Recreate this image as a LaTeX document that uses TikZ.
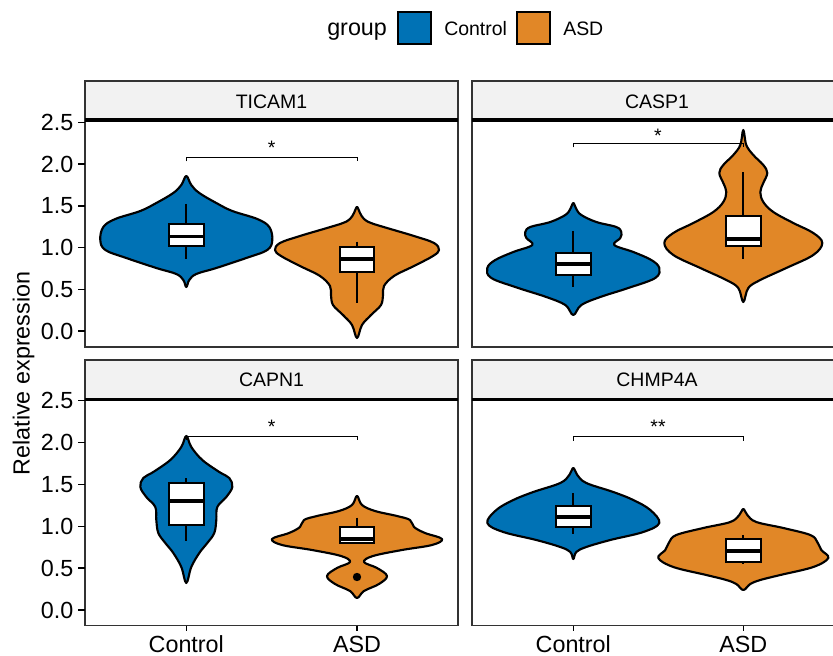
\documentclass[tikz,border=0pt]{standalone}
\usepackage{fontspec}
\setmainfont{Liberation Sans}
\definecolor{ctrl}{HTML}{0072B5}
\definecolor{asd}{HTML}{E18727}
\definecolor{stripgray}{HTML}{F2F2F2}
\definecolor{framegray}{HTML}{333333}
\usetikzlibrary{positioning}
\tikzstyle{panel}=[draw=framegray,line width=1.1pt]
\tikzstyle{strip}=[draw=framegray,fill=stripgray,line width=1.1pt]
\tikzstyle{stripline}=[draw=black,line width=2.3pt]
\tikzstyle{violin}=[draw=black,line width=1.6pt,line join=round]
\tikzstyle{bx}=[draw=black,fill=white,line width=1.5pt]
\tikzstyle{whisk}=[draw=black,line width=1.5pt]
\tikzstyle{med}=[draw=black,line width=2.7pt]
\tikzstyle{bracket}=[draw=black,line width=0.7pt]
\tikzstyle{tick}=[draw=black,line width=1.1pt]
\tikzstyle{big}=[font=\fontsize{17.5}{20}\selectfont,inner sep=0pt]
\tikzstyle{small}=[font=\fontsize{14.6}{17}\selectfont,inner sep=0pt]
\tikzstyle{key}=[draw=black,line width=1.2pt]
\newcommand{\violin}[3]{\draw[violin,fill=#2,shift={(#1,0)}] plot[smooth cycle,tension=0.6] coordinates {#3};}
\newcommand{\boxplt}[6]{%
  \draw[whisk] (#1,#5) -- (#1,#6);
  \draw[bx] (#1-17.3,#2) rectangle (#1+17.3,#3);
  \draw[med] (#1-17.3,#4) -- (#1+17.3,#4);}
\begin{document}
\begin{tikzpicture}[x=0.75pt,y=-0.75pt]
\useasboundingbox (0,0) rectangle (833,656);
\clip (0,0) rectangle (833,656);

% legend
\node[big,anchor=base west] (grp) at (327,36) {group};
\draw[key,fill=ctrl] (398,12) rectangle (431,44);
\node[small,anchor=base west] (kctrl) at (444,36) {Control};
\draw[key,fill=asd] (517,12) rectangle (550,44);
\node[small,anchor=base west] (kasd) at (563,36) {ASD};

% frames
\draw[panel] (85,120) rectangle (458,347);
\draw[panel] (472,120) rectangle (843,347);
\draw[panel] (85,399.5) rectangle (458,625.7);
\draw[panel] (472,399.5) rectangle (843,625.7);
\draw[strip] (85,81) rectangle (458,120);
\draw[strip] (472,81) rectangle (843,120);
\draw[strip] (85,360) rectangle (458,399.5);
\draw[strip] (472,360) rectangle (843,399.5);
\draw[stripline] (85,120) -- (458,120);
\draw[stripline] (472,120) -- (843,120);
\draw[stripline] (85,399.5) -- (458,399.5);
\draw[stripline] (472,399.5) -- (843,399.5);
\node[small,anchor=base] (ticam) at (271.5,108.3) {TICAM1};
\node[small,anchor=base] (casp) at (657,108.3) {CASP1};
\node[small,anchor=base] (capn) at (271.5,386.3) {CAPN1};
\node[small,anchor=base] (chmp) at (657,386.3) {CHMP4A};

% axes
\foreach \v/\y [count=\i] in {0.0/331,0.5/289.3,1.0/247.5,1.5/205.8,2.0/164,2.5/122.3}{
  \draw[tick] (78,\y) -- (85,\y);
  \node[big,anchor=east] (ta\i) at (73.5,\y) {\v};
}
\foreach \v/\y [count=\i] in {0.0/610,0.5/568.1,1.0/526.3,1.5/484.4,2.0/442.6,2.5/400.7}{
  \draw[tick] (78,\y) -- (85,\y);
  \node[big,anchor=east] (tb\i) at (73.5,\y) {\v};
}
\foreach \x/\t [count=\i] in {186.3/Control,357/ASD,573.3/Control,743.3/ASD}{
  \draw[tick] (\x,625.7) -- (\x,631);
  \node[big,anchor=base] (xl\i) at (\x,652.5) {\t};
}
\node[big,anchor=base,rotate=90] (ylab) at (29.5,373.5) {Relative expression};

% TICAM1
\violin{186.3}{ctrl}{(0,176) (5,185) (13,193) (30,203) (46,211) (71,219) (83,227) (86,240) (81,250) (60,258) (30,268) (10,274) (3,280) (0,287) (-3,280) (-10,274) (-30,268) (-60,258) (-81,250) (-86,240) (-83,227) (-71,219) (-46,211) (-30,203) (-13,193) (-5,185)}
\violin{357}{asd}{(0,207) (3,213) (7,219) (14,223) (30,228) (57,236) (77,243) (82,250) (76,256) (57,266) (37,276) (27,286) (26,295) (24,305) (14,315) (5,325) (0,338) (-5,325) (-14,315) (-24,305) (-26,295) (-27,286) (-37,276) (-57,266) (-76,256) (-82,250) (-77,243) (-57,236) (-30,228) (-14,223) (-7,219) (-3,213)}
\boxplt{186.3}{224.3}{245.7}{236.7}{204}{259}
\boxplt{357}{246.7}{271.7}{259}{241.7}{303}
\draw[bracket] (186.3,161.5) -- (186.3,157.3) -- (357,157.3) -- (357,161.5);
\node[small,anchor=base] (s1) at (271.7,154.5) {*};

% CASP1
\violin{573.3}{ctrl}{(0,203) (3,209) (8,215) (23,222) (43,227) (48,232) (47,238) (41,245) (60,252) (78,260) (86,268) (82,278) (55,288) (27,297) (8,305) (0,315) (-8,305) (-27,297) (-55,288) (-82,278) (-86,268) (-78,260) (-60,252) (-41,245) (-47,238) (-48,232) (-43,227) (-23,222) (-8,215) (-3,209)}
\violin{743.3}{asd}{(0,130) (3,145) (10,155) (20,165) (24,173) (20,183) (17,192) (20,202) (30,212) (50,223) (70,233) (79,243) (70,255) (43,268) (17,280) (5,288) (0,302) (-5,288) (-17,280) (-43,268) (-70,255) (-79,243) (-70,233) (-50,223) (-30,212) (-20,202) (-17,192) (-20,183) (-24,173) (-20,165) (-10,155) (-3,145)}
\boxplt{573.3}{253.3}{275}{264}{231}{286.7}
\boxplt{743.3}{215.7}{246}{239.3}{172.3}{259.3}
\draw[bracket] (573.3,147.5) -- (573.3,143.3) -- (743.3,143.3) -- (743.3,147.5);
\node[small,anchor=base] (s2) at (658,143) {*};

% CAPN1
\violin{186.3}{ctrl}{(0,436) (5,447) (16,460) (33,472) (43,478) (46,487) (40,497) (31,507) (30,520) (28,533) (21,543) (13,553) (5,567) (0,583) (-5,567) (-13,553) (-21,543) (-28,533) (-30,520) (-31,507) (-40,497) (-46,487) (-43,478) (-33,472) (-16,460) (-5,447)}
\violin{357}{asd}{(0,496) (5,505) (18,511) (40,516) (53,520) (57,527) (68,533) (85,539) (75,545) (45,550) (16,556) (7,562) (20,568) (30,576) (22,584) (7,591) (0,598) (-7,591) (-22,584) (-30,576) (-20,568) (-7,562) (-16,556) (-45,550) (-75,545) (-85,539) (-68,533) (-57,527) (-53,520) (-40,516) (-18,511) (-5,505)}
\boxplt{186.3}{482.7}{524.7}{500.7}{478.3}{540.7}
\boxplt{357}{527.3}{542.7}{538.7}{517.7}{542.7}
\fill (357,577) circle (4.2);
\draw[bracket] (186.3,440) -- (186.3,436) -- (357,436) -- (357,440);
\node[small,anchor=base] (s3) at (271.7,433) {*};

% CHMP4A
\violin{573.3}{ctrl}{(0,468) (4,475) (13,483) (40,492) (60,500) (77,510) (86,523) (70,532) (37,540) (13,547) (3,552) (0,559) (-3,552) (-13,547) (-37,540) (-70,532) (-86,523) (-77,510) (-60,500) (-40,492) (-13,483) (-4,475)}
\violin{743.3}{asd}{(0,509) (4,515) (13,522) (40,528) (67,535) (74,542) (78,550) (85,558) (70,567) (37,575) (17,580) (7,584) (0,590) (-7,584) (-17,580) (-37,575) (-70,567) (-85,558) (-78,550) (-74,542) (-67,535) (-40,528) (-13,522) (-4,515)}
\boxplt{573.3}{506}{527.3}{516.7}{493.3}{534.3}
\boxplt{743.3}{539}{561.7}{551}{535}{564}
\draw[bracket] (573.3,440.7) -- (573.3,436.7) -- (743.3,436.7) -- (743.3,440.7);
\node[small,anchor=base] (s4) at (658,433) {**};
\end{tikzpicture}
\end{document}
